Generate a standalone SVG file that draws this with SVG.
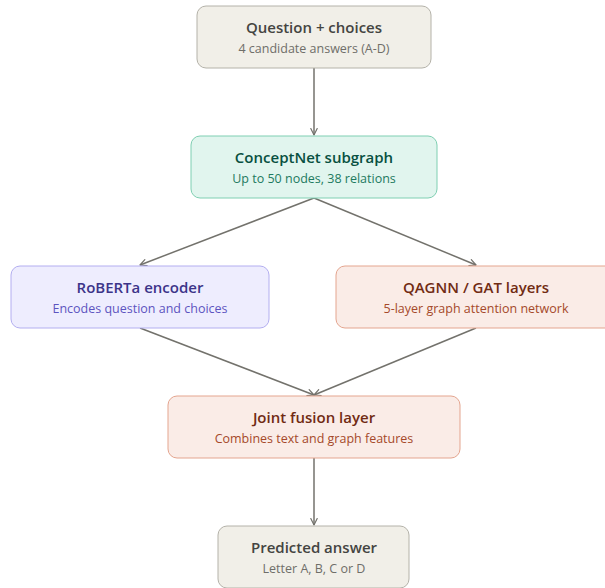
<svg xmlns="http://www.w3.org/2000/svg" width="605" height="588" viewBox="0 0 605 588">
<defs>
<marker id="arr" viewBox="0 0 10 10" refX="9" refY="5" markerWidth="8" markerHeight="8" orient="auto-start-reverse" markerUnits="userSpaceOnUse">
<path d="M1,1 L9,5 L1,9" fill="none" stroke="#73726c" stroke-width="1.5" stroke-linecap="round" stroke-linejoin="round"/>
</marker>
<style>
text{font-family:"Open Sans","Noto Sans","Liberation Sans",sans-serif;text-anchor:middle;dominant-baseline:central}
.t{font-size:15px;font-weight:600}
.s{font-size:12.5px}
.c{fill:none;stroke:#73726c;stroke-width:1.5;marker-end:url(#arr)}
.gray rect{fill:#f1efe8;stroke:#b4b2a9}
.gray .t{fill:#444441}.gray .s{fill:#6f6e69}
.teal rect{fill:#e1f5ee;stroke:#7fcfb2}
.teal .t{fill:#085041}.teal .s{fill:#1d7a5f}
.purple rect{fill:#eeedfe;stroke:#b3aef0}
.purple .t{fill:#3c3489}.purple .s{fill:#5d54c0}
.coral rect{fill:#faece7;stroke:#e4a58f}
.coral .t{fill:#712b13}.coral .s{fill:#a5492a}
</style>
</defs>
<g id="connectors">
<path class="c" d="M314,68 L314,135"/>
<path class="c" d="M314,198 L140,265"/>
<path class="c" d="M314,198 L476,265"/>
<path class="c" d="M140,328 L314,395"/>
<path class="c" d="M476,328 L314,395"/>
<path class="c" d="M314,458 L314,525"/>
</g>
<g id="question" class="gray">
<rect x="197" y="6" width="234" height="62" rx="9"/>
<text class="t" x="314" y="27">Question + choices</text>
<text class="s" x="314" y="48">4 candidate answers (A-D)</text>
</g>
<g id="conceptnet" class="teal">
<rect x="191" y="136" width="246" height="62" rx="9"/>
<text class="t" x="314" y="157">ConceptNet subgraph</text>
<text class="s" x="314" y="178">Up to 50 nodes, 38 relations</text>
</g>
<g id="roberta" class="purple">
<rect x="11" y="266" width="258" height="62" rx="9"/>
<text class="t" x="140" y="287">RoBERTa encoder</text>
<text class="s" x="140" y="308">Encodes question and choices</text>
</g>
<g id="qagnn" class="coral">
<rect x="336" y="266" width="280" height="62" rx="9"/>
<text class="t" x="476" y="287">QAGNN / GAT layers</text>
<text class="s" x="476" y="308">5-layer graph attention network</text>
</g>
<g id="fusion" class="coral">
<rect x="168" y="396" width="292" height="62" rx="9"/>
<text class="t" x="314" y="417">Joint fusion layer</text>
<text class="s" x="314" y="438">Combines text and graph features</text>
</g>
<g id="answer" class="gray">
<rect x="218" y="526" width="191" height="62" rx="9"/>
<text class="t" x="314" y="547">Predicted answer</text>
<text class="s" x="314" y="568">Letter A, B, C or D</text>
</g>
</svg>
